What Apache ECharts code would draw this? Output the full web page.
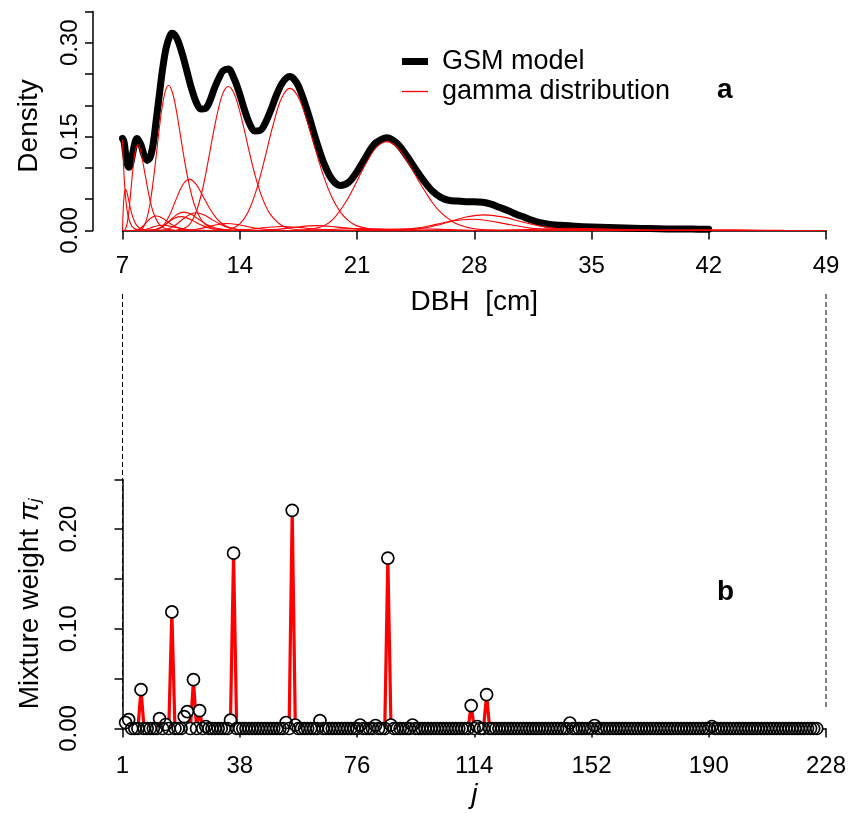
<!DOCTYPE html>
<html><head><meta charset="utf-8">
<script src="https://cdn.jsdelivr.net/npm/echarts@6/dist/echarts.min.js"></script>
<style>html,body{margin:0;padding:0;background:#fff}#c{width:860px;height:814px}</style>
</head><body><div id="c"></div>
<script>
// ---------- data ----------
const dbhTicks = [7, 14, 21, 28, 35, 42, 49];
const densityTickLabels = [0, 0.15, 0.30];
const jTickValues = [0, 38, 76, 114, 152, 190, 228];
const jTickLabels = ['1', '38', '76', '114', '152', '190', '228'];
const weightTickLabels = [0, 0.10, 0.20];

// GSM model density (DBH, density)
const gsmCurve = [[7.00,0.147],[7.09,0.142],[7.18,0.124],[7.28,0.107],[7.37,0.101],[7.46,0.104],[7.55,0.115],[7.73,0.139],[7.85,0.147],[7.92,0.146],[8.10,0.137],[8.28,0.121],[8.47,0.112],[8.65,0.117],[8.83,0.138],[9.02,0.178],[9.20,0.217],[9.40,0.259],[9.60,0.291],[9.80,0.309],[9.95,0.315],[10.10,0.313],[10.30,0.304],[10.58,0.281],[10.85,0.254],[11.13,0.226],[11.40,0.205],[11.68,0.194],[11.95,0.195],[12.20,0.206],[12.50,0.228],[12.80,0.246],[13.00,0.255],[13.32,0.258],[13.64,0.244],[13.95,0.222],[14.27,0.194],[14.58,0.171],[14.90,0.159],[15.22,0.160],[15.53,0.172],[15.85,0.192],[16.20,0.217],[16.50,0.234],[16.80,0.244],[17.00,0.246],[17.20,0.243],[17.50,0.231],[18.00,0.194],[18.50,0.149],[19.00,0.109],[19.50,0.082],[20.00,0.072],[20.50,0.077],[21.00,0.094],[21.50,0.116],[22.00,0.137],[22.50,0.146],[22.77,0.148],[23.10,0.145],[23.50,0.136],[24.00,0.118],[24.50,0.098],[25.00,0.079],[25.50,0.063],[26.00,0.053],[26.50,0.048],[27.00,0.047],[27.50,0.046],[28.00,0.046],[28.50,0.045],[29.00,0.042],[29.50,0.037],[30.00,0.032],[30.50,0.026],[31.00,0.021],[31.50,0.016],[32.00,0.012],[32.50,0.0095],[33.00,0.0085],[34.00,0.0068],[35.00,0.0056],[36.00,0.0048],[37.00,0.004],[38.00,0.0033],[39.00,0.0028],[40.00,0.0024],[41.00,0.0022],[42.00,0.002]];

// weighted gamma components (DBH, density)
const gammaJ1 = [[7.0,0.145],[7.046,0.113],[7.092,0.088],[7.183,0.0533],[7.275,0.0324],[7.367,0.0196],[7.55,0.0072],[7.734,0.0027],[7.917,0.001],[8.284,0.0001],[8.6,0]];
const gammaJ2 = [[7.0,0],[7.046,0.035],[7.092,0.0544],[7.138,0.0636],[7.183,0.066],[7.275,0.060],[7.367,0.0486],[7.55,0.0268],[7.734,0.0131],[7.917,0.006],[8.10,0.0027],[8.468,0.0005],[8.835,0.0001],[9.2,0]];
const gammaJ6 = [[7.0,0],[7.09,0.0001],[7.18,0.0024],[7.275,0.011],[7.37,0.0282],[7.46,0.052],[7.55,0.0788],[7.64,0.103],[7.73,0.122],[7.826,0.1333],[7.92,0.137],[8.01,0.1338],[8.10,0.125],[8.28,0.0997],[8.47,0.0715],[8.65,0.0474],[8.83,0.0295],[9.02,0.0175],[9.20,0.0099],[9.57,0.0029],[10.12,0.0004],[10.6,0]];
const gammaJ12 = [[7.4,0],[7.605,0.0001],[7.807,0.0007],[8.009,0.0028],[8.211,0.0068],[8.413,0.0124],[8.614,0.018],[8.816,0.0219],[9.018,0.0232],[9.22,0.022],[9.422,0.0191],[9.623,0.0153],[9.825,0.0115],[10.027,0.0082],[10.229,0.0056],[10.632,0.0022],[11.036,0.0008],[11.44,0.0003],[12.0,0]];
const gammaJ14 = [[7.8,0],[8.19,0.0007],[8.43,0.002],[8.67,0.0041],[8.91,0.0063],[9.15,0.0079],[9.385,0.0085],[9.62,0.008],[9.86,0.0067],[10.10,0.0052],[10.34,0.0037],[10.58,0.0025],[11.05,0.0009],[11.77,0.0002],[12.3,0]];
const gammaJ16 = [[7.5,0],[8.10,0.002],[8.376,0.0128],[8.651,0.0439],[8.926,0.0992],[9.202,0.164],[9.477,0.214],[9.752,0.232],[10.027,0.216],[10.302,0.178],[10.578,0.132],[10.853,0.0895],[11.128,0.0563],[11.403,0.033],[11.678,0.0183],[11.954,0.0096],[12.504,0.0023],[13.055,0.0005],[13.9,0]];
const gammaJ20 = [[8.2,0],[8.743,0.0006],[9.092,0.0027],[9.44,0.0075],[9.789,0.0143],[10.137,0.02],[10.486,0.0221],[10.835,0.0202],[11.183,0.0158],[11.532,0.0108],[11.88,0.0066],[12.229,0.0037],[12.578,0.0019],[13.275,0.0004],[14.0,0]];
const gammaJ21 = [[8.3,0],[8.835,0.0006],[9.202,0.0032],[9.569,0.0094],[9.936,0.0185],[10.303,0.0263],[10.67,0.0293],[11.037,0.0267],[11.404,0.0206],[11.771,0.0138],[12.138,0.0082],[12.505,0.0044],[12.872,0.0022],[13.606,0.0004],[14.3,0]];
const gammaJ23 = [[8.5,0],[8.995,0.0012],[9.394,0.0071],[9.793,0.0236],[10.192,0.0493],[10.591,0.0728],[10.99,0.082],[11.389,0.074],[11.788,0.0556],[12.187,0.0359],[12.586,0.0203],[12.985,0.0103],[13.384,0.0047],[14.18,0.0008],[15.0,0]];
const gammaJ25 = [[9.0,0],[9.642,0.002],[10.083,0.0073],[10.523,0.0163],[10.964,0.0249],[11.404,0.0283],[11.844,0.0253],[12.285,0.0185],[12.725,0.0115],[13.166,0.0062],[13.606,0.0029],[14.046,0.0012],[14.93,0.0001],[15.5,0]];
const gammaJ35 = [[10.5,0],[11.367,0.0016],[11.99,0.0051],[12.615,0.0093],[13.239,0.0112],[13.863,0.0095],[14.487,0.0061],[15.11,0.0031],[15.735,0.0013],[16.36,0.0004],[17.2,0]];
const gammaJ36 = [[10.2,0.0003],[10.79,0.0047],[11.108,0.0135],[11.424,0.0316],[11.74,0.0615],[12.056,0.1025],[12.372,0.1485],[12.688,0.190],[13.004,0.2198],[13.32,0.230],[13.636,0.2205],[13.952,0.195],[14.268,0.161],[14.584,0.1238],[14.9,0.0897],[15.216,0.0617],[15.532,0.0401],[15.848,0.0249],[16.48,0.0084],[17.112,0.0024],[18.4,0.0001]];
const gammaJ53 = [[13.5,0],[14.63,0.0019],[15.59,0.0048],[16.54,0.0064],[17.49,0.005],[18.45,0.0025],[19.40,0.0009],[20.36,0.0002],[21.3,0]];
const gammaJ55 = [[12.0,0],[13.0,0.0006],[13.5,0.0029],[14.0,0.0106],[14.5,0.0296],[15.0,0.0652],[15.5,0.1156],[16.0,0.1696],[16.5,0.2116],[17.0,0.227],[17.5,0.2127],[18.0,0.1761],[18.5,0.1309],[19.0,0.0873],[19.5,0.0531],[20.0,0.0298],[20.5,0.0153],[21.0,0.0074],[22.0,0.0014],[23.0,0.0002]];
const gammaJ64 = [[14.5,0],[16.25,0.0018],[17.40,0.0056],[18.56,0.0078],[19.72,0.0058],[20.87,0.0026],[22.03,0.0007],[23.18,0.0001],[24.0,0]];
const gammaJ78 = [[17.5,0],[19.01,0.0012],[19.72,0.002],[20.42,0.0028],[21.13,0.0031],[21.84,0.0028],[22.54,0.0022],[23.96,0.0008],[25.37,0.0002],[26.5,0]];
const gammaJ87 = [[17.5,0.0003],[18.83,0.0056],[19.62,0.0195],[20.40,0.0485],[20.80,0.0684],[21.19,0.0893],[21.59,0.1097],[21.98,0.127],[22.38,0.138],[22.77,0.142],[23.16,0.1383],[23.56,0.128],[23.95,0.1126],[24.35,0.0948],[24.74,0.0764],[25.14,0.0591],[25.53,0.0436],[25.92,0.031],[26.71,0.0141],[27.50,0.0056],[28.29,0.0019],[29.08,0.0006],[30.5,0]];
const gammaJ95 = [[20.0,0],[21.66,0.0009],[22.53,0.0017],[23.39,0.0025],[24.25,0.0028],[25.11,0.0025],[25.98,0.0018],[27.7,0.0005],[29.43,0.0001],[30.5,0]];
const gammaJ114 = [[22.5,0],[23.64,0.0013],[24.68,0.0044],[25.72,0.0098],[26.76,0.0155],[27.8,0.018],[28.84,0.0157],[29.88,0.0106],[30.92,0.0057],[31.96,0.0024],[33.0,0.0009],[34.5,0.0001],[35.5,0]];
const gammaJ119 = [[23.0,0],[24.28,0.0016],[25.36,0.0057],[26.44,0.0132],[27.52,0.0215],[28.6,0.025],[29.68,0.0217],[30.76,0.0144],[31.84,0.0075],[32.92,0.0031],[34.0,0.001],[35.08,0.0003],[36.5,0]];
const gammaJ147 = [[28.0,0],[29.78,0.0006],[31.12,0.0016],[32.46,0.0029],[33.8,0.0035],[35.14,0.0029],[36.48,0.0018],[37.82,0.0008],[39.16,0.0003],[41.0,0]];
const gammaJ155 = [[30.0,0],[32.0,0.0006],[33.5,0.0014],[35.26,0.0019],[37.0,0.0014],[38.5,0.0007],[40.5,0.0001],[42.0,0]];
const gammaJ194 = [[35.0,0],[38.0,0.0002],[40.0,0.0007],[42.4,0.0011],[44.5,0.0007],[46.5,0.0002],[49.0,0]];
const gammaZero = [[7,0],[49,0]];
const gammaCurves = [gammaZero, gammaJ1, gammaJ2, gammaJ6, gammaJ12, gammaJ14, gammaJ16, gammaJ20, gammaJ21, gammaJ23, gammaJ25, gammaJ35, gammaJ36, gammaJ53, gammaJ55, gammaJ64, gammaJ78, gammaJ87, gammaJ95, gammaJ114, gammaJ119, gammaJ147, gammaJ155, gammaJ194];

// mixture weights pi_j, j = 1..228
const mixtureWeights = [
  0.006,0.009,0,0,0,0.039,0,0,0,0,0,0.010,0,0.004,0,0.117,0,0,0,
  0.012,0.017,0,0.049,0,0.018,0,0.002,0,0,0,0,0,0,0,0.0085,0.176,0,0,
  0,0,0,0,0,0,0,0,0,0,0,0,0,0,0.006,0,0.219,0.0035,0,
  0,0,0,0,0,0,0.008,0,0,0,0,0,0,0,0,0,0,0,
  0,0.0035,0,0,0,0,0.003,0,0,0,0.171,0.0035,0,0,0,0,0,0,0.0035,
  0,0,0,0,0,0,0,0,0,0,0,0,0,0,0,0,0,0,0.023,
  0,0.002,0,0,0.034,0,0,0,0,0,0,0,0,0,0,0,0,0,
  0,0,0,0,0,0,0,0,0,0,0,0,0,0.0055,0,0,0,0,0,
  0,0,0.003,0,0,0,0,0,0,0,0,0,0,0,0,0,0,0,
  0,0,0,0,0,0,0,0,0,0,0,0,0,0,0,0,0,0,0,
  0,0,0,0.002,0,0,0,0,0,0,0,0,0,0,0,0,0,0,0,
  0,0,0,0,0,0,0,0,0,0,0,0,0,0,0,0,0,0,0
];

// ---------- chart ----------
const FONT = "'Liberation Sans', Arial, Helvetica, sans-serif";
const near = (a, b) => Math.abs(a - b) < 1e-9;
const weightData = mixtureWeights.map((v, i) => [i + 1, v]);
const axisCol = { color: '#000', width: 1.5 };

const chart = echarts.init(document.getElementById('c'), null, { renderer: 'canvas' });

const series = [{
  type: 'line', name: 'GSM model', xAxisIndex: 0, yAxisIndex: 0, data: gsmCurve,
  color: '#000', showSymbol: false, symbol: 'none', smooth: 0.35, clip: false, z: 2,
  lineStyle: { color: '#000', width: 7, cap: 'round', join: 'round' }
}];
gammaCurves.forEach(c => series.push({
  type: 'line', name: 'gamma distribution', xAxisIndex: 0, yAxisIndex: 0, data: c,
  color: '#ff0000', showSymbol: false, symbol: 'none', smooth: 0.35, clip: false, z: 3,
  lineStyle: { color: '#ff0000', width: 1.1 }
}));
series.push({
  type: 'line', name: 'weights', xAxisIndex: 1, yAxisIndex: 1, data: weightData,
  showSymbol: false, symbol: 'none', clip: false, z: 2,
  lineStyle: { color: '#ff0000', width: 3.2, join: 'round' }
});
series.push({
  type: 'scatter', xAxisIndex: 1, yAxisIndex: 1, data: weightData, symbolSize: 12,
  itemStyle: { color: '#fff', opacity: 1 }, z: 3, silent: true
});
series.push({
  type: 'scatter', xAxisIndex: 1, yAxisIndex: 1, data: weightData, symbolSize: 12,
  itemStyle: { color: 'rgba(0,0,0,0)', borderColor: '#000', borderWidth: 1.7, opacity: 1 }, z: 4, silent: true
});

const option = {
  animation: false,
  backgroundColor: '#fff',
  textStyle: { fontFamily: FONT, color: '#000' },
  title: [
    { text: 'a', left: 717, top: 76, padding: 0, textStyle: { fontFamily: FONT, fontSize: 28, fontWeight: 'bold', color: '#000' } },
    { text: 'b', left: 717, top: 578, padding: 0, textStyle: { fontFamily: FONT, fontSize: 28, fontWeight: 'bold', color: '#000' } }
  ],
  legend: [
    { data: [{ name: 'GSM model', icon: 'rect' }], left: 402, top: 48, padding: 0, itemWidth: 26, itemHeight: 7,
      selectedMode: false, textStyle: { fontFamily: FONT, fontSize: 27, color: '#000', padding: [0, 0, 0, 9] } },
    { data: [{ name: 'gamma distribution', icon: 'rect' }], left: 402, top: 78, padding: 0, itemWidth: 26, itemHeight: 1.3,
      selectedMode: false, textStyle: { fontFamily: FONT, fontSize: 27, color: '#000', padding: [0, 0, 0, 9] } }
  ],
  grid: [
    { left: 122.5, right: 34, top: 11.4, height: 219.1 },
    { left: 122.5, right: 34, top: 479.4, height: 249.1 }
  ],
  xAxis: [
    { type: 'value', gridIndex: 0, min: dbhTicks[0], max: dbhTicks[dbhTicks.length - 1], interval: 7, offset: 7.5,
      axisLine: { lineStyle: axisCol }, axisTick: { length: 9, lineStyle: axisCol }, splitLine: { show: false },
      axisLabel: { fontFamily: FONT, fontSize: 24, color: '#000', margin: 16, showMinLabel: true, showMaxLabel: true },
      name: 'DBH  [cm]', nameLocation: 'middle', nameGap: 50, nameTextStyle: { fontFamily: FONT, fontSize: 28, color: '#000' } },
    { type: 'value', gridIndex: 1, min: jTickValues[0], max: jTickValues[jTickValues.length - 1], interval: 38, offset: 9.5,
      axisLine: { lineStyle: axisCol }, axisTick: { length: 9, lineStyle: axisCol }, splitLine: { show: false },
      axisLabel: { fontFamily: FONT, fontSize: 24, color: '#000', margin: 16, showMinLabel: true, showMaxLabel: true,
        formatter: v => { const i = jTickValues.findIndex(t => near(t, v)); return i >= 0 ? jTickLabels[i] : ''; } },
      name: 'j', nameLocation: 'middle', nameGap: 43, nameTextStyle: { fontFamily: FONT, fontSize: 28, fontStyle: 'italic', color: '#000' } }
  ],
  yAxis: [
    { type: 'value', gridIndex: 0, min: 0, max: 0.35, interval: 0.05, offset: 29.5,
      axisLine: { show: true, lineStyle: axisCol }, axisTick: { show: true, length: 8, lineStyle: axisCol }, splitLine: { show: false },
      axisLabel: { fontFamily: FONT, fontSize: 24, color: '#000', rotate: 90, margin: 11, showMinLabel: true,
        formatter: v => densityTickLabels.some(t => near(t, v)) ? v.toFixed(2) : '' },
      name: 'Density', nameLocation: 'middle', nameGap: 50,
      nameTextStyle: { fontFamily: FONT, fontSize: 28, color: '#000', padding: [0, 10, 0, 0] } },
    { type: 'value', gridIndex: 1, min: 0, max: 0.25, interval: 0.05, offset: 30.5,
      axisLine: { show: true, lineStyle: axisCol }, axisTick: { show: true, length: 8, lineStyle: axisCol }, splitLine: { show: false },
      axisLabel: { fontFamily: FONT, fontSize: 24, color: '#000', rotate: 90, margin: 11, showMinLabel: true,
        formatter: v => weightTickLabels.some(t => near(t, v)) ? v.toFixed(2) : '' },
      name: '{t|Mixture weight }{p|π}{s|j}', nameLocation: 'middle', nameGap: 48,
      nameTextStyle: { fontFamily: FONT, fontSize: 28, color: '#000',
        rich: { t: { fontFamily: FONT, fontSize: 28, color: '#000' },
                p: { fontFamily: FONT, fontSize: 28, fontStyle: 'italic', color: '#000' },
                s: { fontFamily: FONT, fontSize: 17, fontStyle: 'italic', color: '#000', verticalAlign: 'bottom' } } } }
  ],
  series: series
};
chart.setOption(option);

// dashed connectors between panel a (DBH 7 / 49) and panel b (first / last j)
const xL = chart.convertToPixel({ xAxisIndex: 0 }, dbhTicks[0]);
const xR = chart.convertToPixel({ xAxisIndex: 0 }, dbhTicks[dbhTicks.length - 1]);
chart.setOption({
  graphic: [xL, xR].map(x => ({
    type: 'line', silent: true, shape: { x1: x, y1: 294, x2: x, y2: 710 },
    style: { stroke: '#000', lineWidth: 1, lineDash: [5, 3] }
  }))
});
</script></body></html>
